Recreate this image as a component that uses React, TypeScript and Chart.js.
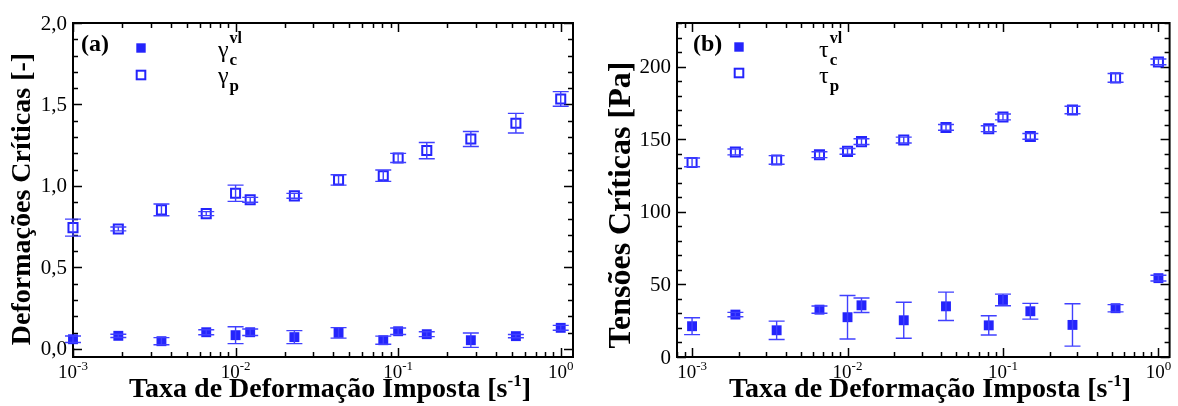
import React, { useEffect, useRef } from "react";
import { Chart, registerables } from "chart.js";
Chart.register(...registerables);

// ---------- data ----------
const rates = [0.001, 0.0019, 0.0035, 0.0066, 0.01, 0.0123, 0.023, 0.043, 0.081, 0.1, 0.15, 0.28, 0.53, 1.0];

const gammaP = [0.744, 0.736, 0.853, 0.83, 0.955, 0.915, 0.939, 1.037, 1.063, 1.172, 1.217, 1.288, 1.385, 1.534];
const gammaPErr = [0.052, 0.012, 0.036, 0.012, 0.05, 0.015, 0.015, 0.032, 0.035, 0.028, 0.05, 0.046, 0.06, 0.045];
const gammaC = [0.059, 0.08, 0.047, 0.102, 0.084, 0.102, 0.072, 0.098, 0.053, 0.108, 0.09, 0.053, 0.078, 0.129];
const gammaCErr = [0.02, 0.01, 0.022, 0.015, 0.052, 0.02, 0.04, 0.032, 0.025, 0.02, 0.015, 0.044, 0.01, 0.015];

const tauP = [134.0, 141.2, 135.7, 139.3, 141.6, 148.3, 149.4, 158.1, 157.2, 165.3, 151.9, 170.1, 192.2, 203.2];
const tauPErr = [3, 2, 3, 2, 2, 2, 2, 2, 2, 2, 2, 2.6, 3, 2];
const tauC = [21.2, 29.2, 18.4, 32.6, 27.4, 35.6, 25.3, 34.9, 21.8, 39.3, 31.5, 22.1, 33.6, 54.3];
const tauCErr = [5.8, 1.5, 6.3, 2.5, 15, 5, 12.4, 9.8, 6.6, 4, 5.4, 14.6, 2.5, 2];

const xTickValues = [0.001, 0.01, 0.1, 1];
const xTickExps = ["-3", "-2", "-1", "0"];
const yTickValuesA = [0, 0.5, 1, 1.5, 2];
const yTickLabelsA = ["0,0", "0,5", "1,0", "1,5", "2,0"];
const yTickValuesB = [0, 50, 100, 150, 200];
const yTickLabelsB = ["0", "50", "100", "150", "200"];

const xTitleMain = "Taxa de Deformação Imposta [s";
const xTitleSup = "-1";
const xTitleEnd = "]";

// ---------- styles ----------
const BLUE = "rgb(36,36,252)";
const ERR = "rgb(64,64,255)";
const SERIF = "'Liberation Serif', 'Times New Roman', serif";

type Panel = {
  offset: number;
  padding: { left: number; top: number; right: number; bottom: number };
  xMin: number; xMax: number; yMin: number; yMax: number;
  yMinorStep: number; yMajorStep: number;
  yTickValues: number[]; yTickLabels: string[];
  yTitle: string; yTitleX: number; yTitleY: number; yTitleSize: number;
  xTitleX: number;
  label: string; labelX: number;
  greek: string; greekX: number;
  legendX: number; legendY1: number; legendY2: number;
  filled: number[]; filledErr: number[];
  open: number[]; openErr: number[];
};

const panelA: Panel = {
  offset: 0,
  padding: { left: 73, top: 23, right: 16, bottom: 49 },
  xMin: 0.001, xMax: 1.19, yMin: -0.05, yMax: 2.0,
  yMinorStep: 0.1, yMajorStep: 0.5,
  yTickValues: yTickValuesA, yTickLabels: yTickLabelsA,
  yTitle: "Deformações Críticas [-]", yTitleX: 23, yTitleY: 199, yTitleSize: 28,
  xTitleX: 330,
  label: "(a)", labelX: 81,
  greek: "γ", greekX: 218,
  legendX: 141, legendY1: 48, legendY2: 75,
  filled: gammaC, filledErr: gammaCErr,
  open: gammaP, openErr: gammaPErr,
};

const panelB: Panel = {
  offset: 589,
  padding: { left: 88, top: 23, right: 1, bottom: 49 },
  xMin: 0.0008, xMax: 1.18, yMin: 0, yMax: 230,
  yMinorStep: 10, yMajorStep: 50,
  yTickValues: yTickValuesB, yTickLabels: yTickLabelsB,
  yTitle: "Tensões Críticas [Pa]", yTitleX: 622, yTitleY: 205, yTitleSize: 32,
  xTitleX: 930,
  label: "(b)", labelX: 693,
  greek: "τ", greekX: 819,
  legendX: 739, legendY1: 47, legendY2: 73,
  filled: tauC, filledErr: tauCErr,
  open: tauP, openErr: tauPErr,
};

function isMajor(v: number, step: number) {
  const r = v / step;
  return Math.abs(r - Math.round(r)) < 1e-6;
}

const panelPlugin = {
  id: "panel",
  beforeDatasetsDraw(chart: any, _a: any, p: Panel) {
    const ctx = chart.ctx as CanvasRenderingContext2D;
    const { left, right, top, bottom } = chart.chartArea;
    const xs = chart.scales.x;
    const ys = chart.scales.y;
    ctx.save();
    ctx.strokeStyle = "#000";
    ctx.lineWidth = 1.5;
    // x ticks (log)
    for (let e = -4; e <= 0; e++) {
      for (let m = 1; m <= 9; m++) {
        const v = m * Math.pow(10, e);
        if (v < p.xMin * 0.999 || v > p.xMax) continue;
        const px = Math.round(xs.getPixelForValue(v)) + 0.5;
        const len = m === 1 ? 9 : 5;
        ctx.beginPath();
        ctx.moveTo(px, bottom); ctx.lineTo(px, bottom - len);
        ctx.moveTo(px, top); ctx.lineTo(px, top + len);
        ctx.stroke();
      }
    }
    // y ticks
    const n = Math.round((p.yMax - 0) / p.yMinorStep);
    for (let i = 0; i <= n; i++) {
      const v = i * p.yMinorStep;
      if (v < p.yMin || v > p.yMax) continue;
      const py = Math.round(ys.getPixelForValue(v)) + 0.5;
      const len = isMajor(v, p.yMajorStep) ? 9 : 5;
      ctx.beginPath();
      ctx.moveTo(left, py); ctx.lineTo(left + len, py);
      ctx.moveTo(right, py); ctx.lineTo(right - len, py);
      ctx.stroke();
    }
    // frame
    ctx.lineWidth = 2;
    ctx.strokeRect(left, top, right - left, bottom - top);
    ctx.restore();
  },
  afterDatasetsDraw(chart: any, _a: any, p: Panel) {
    const ctx = chart.ctx as CanvasRenderingContext2D;
    const xs = chart.scales.x;
    const ys = chart.scales.y;
    ctx.save();
    ctx.strokeStyle = ERR;
    ctx.lineWidth = 1.4;
    const sets = [
      [p.filled, p.filledErr],
      [p.open, p.openErr],
    ];
    for (const [vals, errs] of sets) {
      rates.forEach((r, i) => {
        const px = xs.getPixelForValue(r);
        const y1 = ys.getPixelForValue(vals[i] + errs[i]);
        const y2 = ys.getPixelForValue(vals[i] - errs[i]);
        const cap = 8;
        ctx.beginPath();
        ctx.moveTo(px, y1); ctx.lineTo(px, y2);
        ctx.moveTo(px - cap, y1); ctx.lineTo(px + cap, y1);
        ctx.moveTo(px - cap, y2); ctx.lineTo(px + cap, y2);
        ctx.stroke();
      });
    }
    ctx.restore();
  },
  afterDraw(chart: any, _a: any, p: Panel) {
    const ctx = chart.ctx as CanvasRenderingContext2D;
    const { left } = chart.chartArea;
    const xs = chart.scales.x;
    const ys = chart.scales.y;
    const o = p.offset;
    ctx.save();
    ctx.fillStyle = "#000";
    // y tick labels
    ctx.font = `21px ${SERIF}`;
    ctx.textAlign = "right";
    ctx.textBaseline = "middle";
    p.yTickValues.forEach((v, i) => {
      ctx.fillText(p.yTickLabels[i], left - 6, ys.getPixelForValue(v) + 1);
    });
    ctx.textBaseline = "alphabetic";
    ctx.textAlign = "left";
    // x tick labels 10^n
    xTickValues.forEach((v, i) => {
      if (v < p.xMin * 0.999 || v > p.xMax) return;
      const px = xs.getPixelForValue(v);
      ctx.font = `19px ${SERIF}`;
      const w1 = ctx.measureText("10").width;
      ctx.font = `13px ${SERIF}`;
      const w2 = ctx.measureText(xTickExps[i]).width;
      const x0 = px - (w1 + w2) / 2;
      ctx.font = `19px ${SERIF}`;
      ctx.fillText("10", x0, 378);
      ctx.font = `13px ${SERIF}`;
      ctx.fillText(xTickExps[i], x0 + w1, 370);
    });
    // x title
    {
      const fMain = `bold 28px ${SERIF}`;
      const fSup = `bold 17px ${SERIF}`;
      ctx.font = fMain;
      const w1 = ctx.measureText(xTitleMain).width;
      const w3 = ctx.measureText(xTitleEnd).width;
      ctx.font = fSup;
      const w2 = ctx.measureText(xTitleSup).width;
      const x0 = p.xTitleX - o - (w1 + w2 + w3) / 2;
      ctx.font = fMain;
      ctx.fillText(xTitleMain, x0, 397);
      ctx.font = fSup;
      ctx.fillText(xTitleSup, x0 + w1, 386);
      ctx.font = fMain;
      ctx.fillText(xTitleEnd, x0 + w1 + w2, 397);
    }
    // y title
    ctx.save();
    ctx.translate(p.yTitleX - o, p.yTitleY);
    ctx.rotate(-Math.PI / 2);
    ctx.font = `bold ${p.yTitleSize}px ${SERIF}`;
    ctx.textAlign = "center";
    ctx.textBaseline = "middle";
    ctx.fillText(p.yTitle, 0, 0);
    ctx.restore();
    // panel label
    ctx.font = `bold 24px ${SERIF}`;
    ctx.textAlign = "left";
    ctx.fillText(p.label, p.labelX - o, 51);
    // legend markers
    const lx = p.legendX - o;
    ctx.fillStyle = BLUE;
    ctx.fillRect(lx - 4.7, p.legendY1 - 4.7, 9.4, 9.4);
    ctx.strokeStyle = BLUE;
    ctx.lineWidth = 2;
    ctx.strokeRect(lx - 4.3, p.legendY2 - 4.3, 8.6, 8.6);
    // legend text
    ctx.fillStyle = "#000";
    const gx = p.greekX - o;
    ctx.font = `24px ${SERIF}`;
    const gw = ctx.measureText(p.greek).width;
    ctx.fillText(p.greek, gx, 57);
    ctx.fillText(p.greek, gx, 83);
    ctx.font = `bold 16px ${SERIF}`;
    ctx.fillText("vl", gx + gw + 1, 43);
    ctx.font = `bold 17px ${SERIF}`;
    ctx.fillText("c", gx + gw + 1, 65);
    ctx.fillText("p", gx + gw + 1, 91);
    ctx.restore();
  },
};

function makeChart(canvas: HTMLCanvasElement, p: Panel) {
  return new Chart(canvas, {
    type: "scatter",
    data: {
      datasets: [
        {
          label: "c",
          data: rates.map((x, i) => ({ x, y: p.filled[i] })),
          pointStyle: "rect",
          pointRadius: 7,
          backgroundColor: BLUE,
          borderColor: BLUE,
          borderWidth: 0,
          clip: false,
        } as any,
        {
          label: "p",
          data: rates.map((x, i) => ({ x, y: p.open[i] })),
          pointStyle: "rect",
          pointRadius: 6.4,
          backgroundColor: "rgba(255,255,255,1)",
          borderColor: BLUE,
          borderWidth: 2,
          clip: false,
        } as any,
      ],
    },
    options: {
      responsive: false,
      animation: false,
      events: [],
      layout: { padding: p.padding },
      scales: {
        x: { type: "logarithmic", min: p.xMin, max: p.xMax, display: false },
        y: { type: "linear", min: p.yMin, max: p.yMax, display: false },
      },
      plugins: {
        legend: { display: false },
        tooltip: { enabled: false },
        panel: p,
      } as any,
    },
    plugins: [panelPlugin as any],
  });
}

export default function App() {
  const refA = useRef<HTMLCanvasElement>(null);
  const refB = useRef<HTMLCanvasElement>(null);
  useEffect(() => {
    document.body.style.margin = "0";
    const a = makeChart(refA.current!, panelA);
    const b = makeChart(refB.current!, panelB);
    return () => {
      a.destroy();
      b.destroy();
    };
  }, []);
  return (
    <div style={{ position: "relative", width: 1178, height: 406, background: "#fff" }}>
      <canvas ref={refA} width={589} height={406} style={{ position: "absolute", left: 0, top: 0, width: 589, height: 406 }} />
      <canvas ref={refB} width={589} height={406} style={{ position: "absolute", left: 589, top: 0, width: 589, height: 406 }} />
    </div>
  );
}
